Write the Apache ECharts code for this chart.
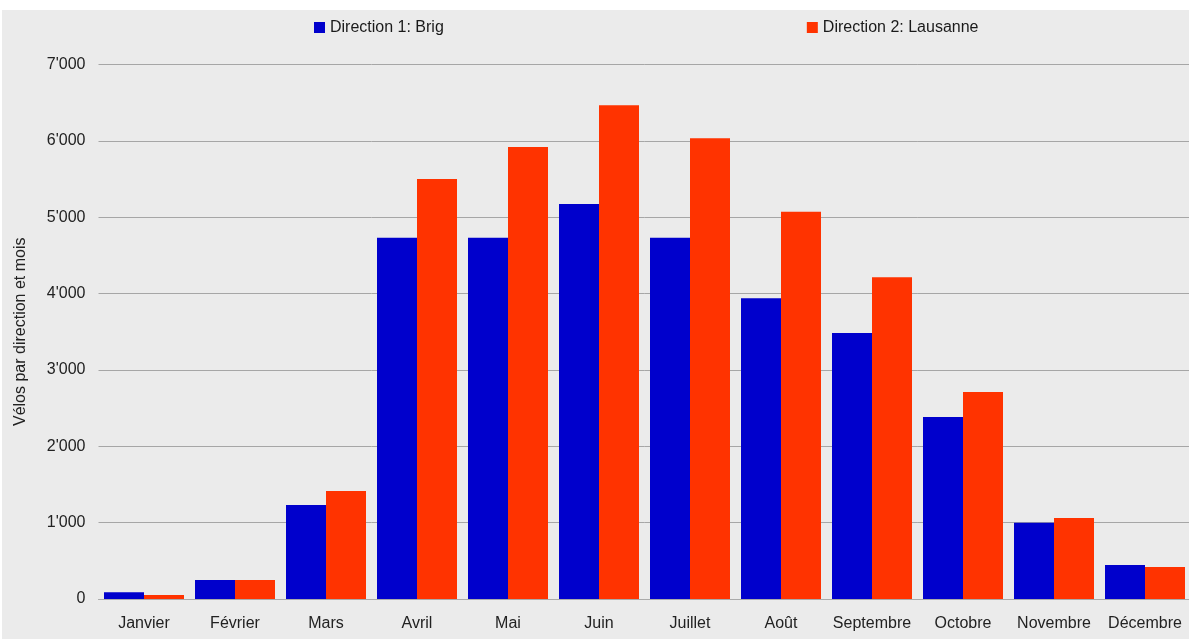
<!DOCTYPE html>
<html>
<head>
<meta charset="utf-8">
<script src="https://cdn.jsdelivr.net/npm/echarts@6/dist/echarts.min.js"></script>
<style>
html,body{margin:0;padding:0;background:#ffffff;width:1189px;height:639px;overflow:hidden;}
#c{position:absolute;left:2px;top:10px;width:1187px;height:629px;}
</style>
</head>
<body>
<div id="c"></div>
<script>
var categories = ['Janvier','Février','Mars','Avril','Mai','Juin','Juillet','Août','Septembre','Octobre','Novembre','Décembre'];
var brig = [90, 250, 1230, 4730, 4730, 5174, 4730, 3939, 3484, 2385, 999, 445];
var lausanne = [52, 250, 1414, 5500, 5918, 6466, 6035, 5070, 4213, 2712, 1060, 419];
var seriesNames = ['Direction 1: Brig', 'Direction 2: Lausanne'];
var yAxisName = 'Vélos par direction et mois';

var chart = echarts.init(document.getElementById('c'));
var font = '"Liberation Sans", Arial, sans-serif';
chart.setOption({
  backgroundColor: '#ebebeb',
  animation: false,
  textStyle: {fontFamily: font},
  legend: {
    left: 307, top: 4.5,
    itemWidth: 11, itemHeight: 11, itemGap: 363,
    icon: 'rect',
    textStyle: {fontSize: 16, color: '#1a1a1a', fontFamily: font},
    data: seriesNames
  },
  grid: {left: 96.5, top: 54.5, width: 1092, height: 534.5, containLabel: false, outerBoundsMode: 'none'},
  xAxis: {
    type: 'category',
    data: categories,
    axisLine: {show: true, lineStyle: {color: '#aaaaaa', width: 1}},
    axisTick: {show: false},
    axisLabel: {fontSize: 16, color: '#222222', margin: 17, fontFamily: font, interval: 0}
  },
  yAxis: {
    type: 'value',
    min: 0, max: 7000, interval: 1000,
    name: yAxisName,
    nameLocation: 'middle',
    nameGap: 70,
    nameTextStyle: {fontSize: 16, color: '#222222', fontFamily: font},
    axisLine: {show: false},
    axisTick: {show: false},
    axisLabel: {
      fontSize: 16, color: '#222222', margin: 13, fontFamily: font,
      formatter: function (v) {
        return v === 0 ? '0' : String(v).replace(/\B(?=(\d{3})+(?!\d))/g, "'");
      }
    },
    splitLine: {lineStyle: {color: '#a6a6a6', width: 1}}
  },
  series: [
    {name: seriesNames[0], type: 'bar', data: brig, barWidth: 40, barGap: '0%', itemStyle: {color: '#0000cc'}},
    {name: seriesNames[1], type: 'bar', data: lausanne, barWidth: 40, barGap: '0%', itemStyle: {color: '#ff3300'}}
  ]
});
</script>
</body>
</html>
